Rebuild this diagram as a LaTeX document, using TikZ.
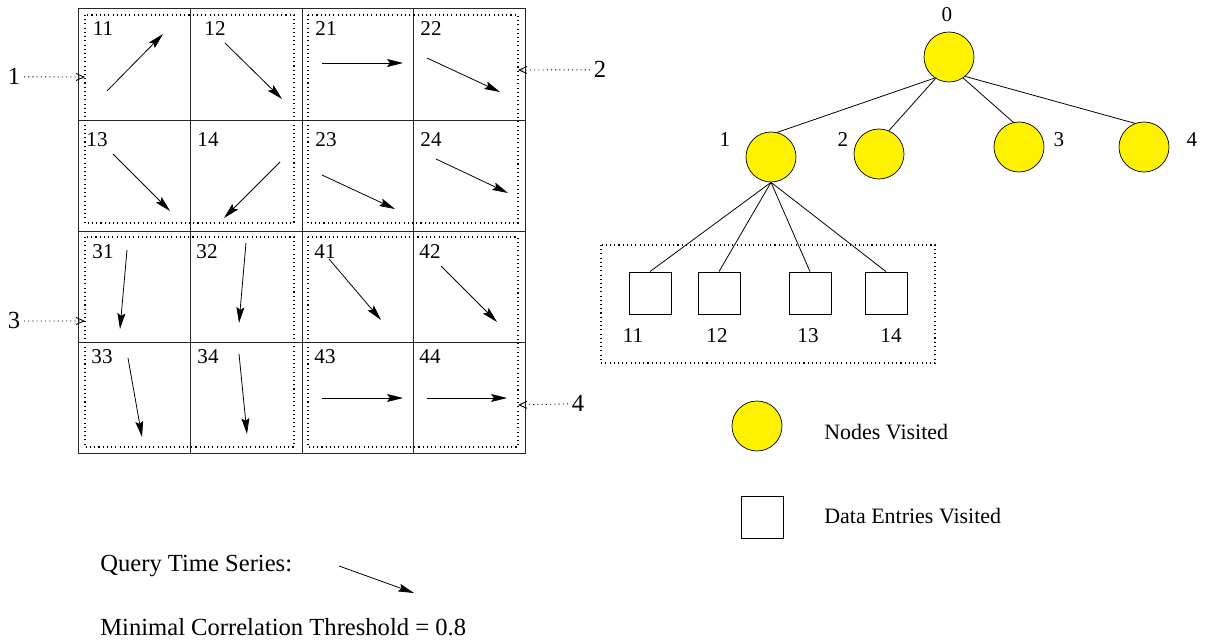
\documentclass[tikz,border=0pt]{standalone}
\usepackage{fontspec}
\setmainfont{Liberation Serif}
\usetikzlibrary{arrows.meta}
\begin{document}
\begin{tikzpicture}[x=0.02cm,y=-0.02cm,
  vec/.style={-{Stealth[length=9pt,width=4.5pt,inset=1.5pt]}, line width=0.45pt},
  num/.style={anchor=base, inner sep=0pt, font=\fontsize{12}{14}\selectfont},
  sidenum/.style={anchor=base, inner sep=2pt, font=\fontsize{14}{16}\selectfont},
  gridline/.style={line width=0.45pt, draw=black!85},
  dotbox/.style={dash pattern=on 0.6pt off 1.8pt, line width=0.6pt},
  pointer/.style={dash pattern=on 0.6pt off 1.8pt, line width=0.5pt,
                  -{Straight Barb[length=4.5pt,width=4pt,line width=0.5pt]}},
  visited/.style={circle, draw, fill=yellow, minimum size=1cm, inner sep=0pt, line width=0.4pt},
  entry/.style={rectangle, draw, minimum size=0.84cm, inner sep=0pt, line width=0.45pt},
  treeline/.style={line width=0.45pt},
  caption/.style={anchor=base west, inner sep=0pt, font=\fontsize{14}{16}\selectfont},
  legendtext/.style={anchor=base west, inner sep=0pt, font=\fontsize{12.5}{15}\selectfont},
]
\useasboundingbox (0,0) rectangle (1207,641);

% ---- 4x4 grid of cells ----
\draw[gridline] (78,8) rectangle (525,453);
\foreach \x in {190,302,413} \draw[gridline] (\x,8) -- (\x,453);
\foreach \y in {120,231,342} \draw[gridline] (78,\y) -- (525,\y);

% dotted groups of four cells
\draw[dotbox] (85,15) rectangle (294,223);
\draw[dotbox] (308,15) rectangle (518,223);
\draw[dotbox] (85,237) rectangle (294,447);
\draw[dotbox] (308,237) rectangle (518,447);

% cell numbers
\node[num] (c11) at (103,36) {11};
\node[num] (c12) at (215,36) {12};
\node[num] (c13) at (97,147) {13};
\node[num] (c14) at (208,147) {14};
\node[num] (c21) at (326,36) {21};
\node[num] (c22) at (431,36) {22};
\node[num] (c23) at (326,147) {23};
\node[num] (c24) at (431,147) {24};
\node[num] (c31) at (103,259) {31};
\node[num] (c32) at (207,259) {32};
\node[num] (c33) at (102,364) {33};
\node[num] (c34) at (208,364) {34};
\node[num] (c41) at (325,259) {41};
\node[num] (c42) at (430,259) {42};
\node[num] (c43) at (325,364) {43};
\node[num] (c44) at (430,364) {44};

% time series trends inside the cells
\draw[vec] (107,91) -- (163,34);
\draw[vec] (225,43) -- (282,99);
\draw[vec] (113,154) -- (170,211);
\draw[vec] (280,162) -- (224,218);
\draw[vec] (322,63) -- (403,63);
\draw[vec] (427,58) -- (500,92);
\draw[vec] (322,175) -- (395,209);
\draw[vec] (436,159) -- (508,193);
\draw[vec] (127,250) -- (120,329);
\draw[vec] (246,243) -- (239,323);
\draw[vec] (128,358) -- (142,437);
\draw[vec] (239,354) -- (247,434);
\draw[vec] (329,259) -- (381,320);
\draw[vec] (441,266) -- (497,322);
\draw[vec] (322,398) -- (403,398);
\draw[vec] (427,398) -- (507,398);

% group labels pointing at the dotted boxes
\node[sidenum] (g1) at (14,85) {1};
\node[sidenum] (g2) at (600,78) {2};
\node[sidenum] (g3) at (14,329) {3};
\node[sidenum] (g4) at (578,412) {4};
\coordinate (t1) at (85,77);
\coordinate (t2) at (518,70);
\coordinate (t3) at (85,321);
\coordinate (t4) at (518,405);
\draw[pointer] (g1.east) -- (t1);
\draw[pointer] (g2.west) -- (t2);
\draw[pointer] (g3.east) -- (t3);
\draw[pointer] (g4.west) -- (t4);

% ---- index tree ----
\node[visited] (root) at (949,57) {};
\node[visited] (n1) at (771,157) {};
\node[visited] (n2) at (879,154) {};
\node[visited] (n3) at (1019,147) {};
\node[visited] (n4) at (1144,147) {};
\node[num] (lr) at (947,22) {0};
\node[num] (l1) at (725,147) {1};
\node[num] (l2) at (843,147) {2};
\node[num] (l3) at (1059,147) {3};
\node[num] (l4) at (1192,147) {4};
\draw[treeline] (root.-124) -- (n1.76);
\draw[treeline] (root.-122) -- (n2.67);
\draw[treeline] (root.-56) -- (n3.103);
\draw[treeline] (root.-50) -- (n4.111);

% data entries of node 1
\draw[dotbox] (601,245) rectangle (935,363);
\node[entry] (e11) at (650,293) {};
\node[entry] (e12) at (719,293) {};
\node[entry] (e13) at (810,293) {};
\node[entry] (e14) at (886,293) {};
\foreach \e in {e11,e12,e13,e14} \draw[treeline] (n1.south) -- (\e.north);
\node[num] (le11) at (633,343) {11};
\node[num] (le12) at (717,343) {12};
\node[num] (le13) at (808,343) {13};
\node[num] (le14) at (891,343) {14};

% ---- legend ----
\node[visited] (kn) at (757,426) {};
\node[entry] (ke) at (762,517) {};
\node[legendtext] (knt) at (824,440) {Nodes Visited};
\node[legendtext] (ket) at (824,524) {Data Entries Visited};

% ---- query ----
\node[caption] (qts) at (100,572) {Query Time Series:};
\coordinate (qa) at (339,566);
\coordinate (qb) at (414,593);
\draw[vec] (qa) -- (qb);
\node[caption] (mct) at (100,635) {Minimal Correlation Threshold = 0.8};
\end{tikzpicture}
\end{document}
